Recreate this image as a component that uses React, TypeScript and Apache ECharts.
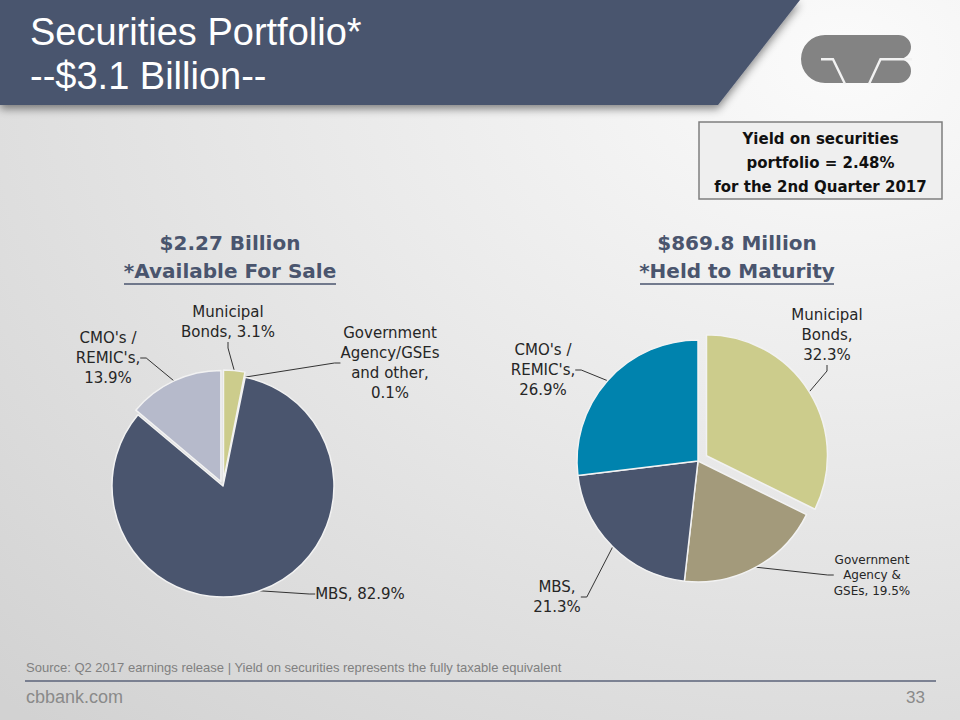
import React, { useEffect, useRef } from 'react';
import * as echarts from 'echarts';

// ---------- Data ----------
const afsNames = ["Municipal\nBonds", "Government\nAgency/GSEs\nand other", "MBS", "CMO's /\nREMIC's"];
const afsValues = [3.1, 0.1, 82.9, 13.9];
const afsSep = [', ', ',\n', ', ', ',\n'];
const afsColors = ['#cccc8c', '#a39a7b', '#4a556e', '#b6bacb'];
const afsExplode = [5, 0, 0, 5];

const htmNames = ["Municipal\nBonds", "Government\nAgency &\nGSEs", "MBS", "CMO's /\nREMIC's"];
const htmValues = [32.3, 19.5, 21.3, 26.9];
const htmSep = [',\n', ', ', ',\n', ',\n'];
const htmColors = ['#cccc8c', '#a39a7b', '#4a556e', '#0083ae'];
const htmExplode = [10, 0, 0, 0];

// label anchor positions (layout only)
const afsLabelPos = [[228, 322], [390, 363], [360, 594], [108, 358]];
const htmLabelPos = [[827, 335], [872, 575], [557, 597], [543, 370]];

const LOGO_D =
  'M825 35 L898 35 A12.5 12 0 0 1 899 59 A12.5 12 0 0 1 898 83 L825 83 A24 24 0 0 1 825 35 Z';
echarts.graphic.registerShape('cvbLogo', echarts.graphic.extendPath(LOGO_D, {}));

const SLATE = '#4a556e';
const HIDDEN = 'rgba(0,0,0,0)';

function buildPieSeries(
  names: string[], values: number[], seps: string[], colors: string[], explode: number[],
  pos: number[][], center: number[], radius: number, smallIdx: number
) {
  const total = values.reduce((a, b) => a + b, 0);
  // groups: -1 = base (non-exploded items), k = exploded item k
  const groups = [-1, ...explode.map((e, i) => (e > 0 ? i : -2)).filter((i) => i >= 0)];
  let cum = 0;
  const mids = values.map((v) => {
    const m = ((cum + v / 2) / total) * 2 * Math.PI;
    cum += v;
    return m; // clockwise from 12 o'clock
  });
  return groups.map((g) => {
    const visible = (i: number) => (g === -1 ? explode[i] === 0 : i === g);
    const off = g === -1 ? 0 : explode[g];
    const c = g === -1 ? center : [center[0] + Math.sin(mids[g]) * off, center[1] - Math.cos(mids[g]) * off];
    return {
      type: 'pie',
      center: c,
      radius,
      startAngle: 90,
      clockwise: true,
      silent: true,
      avoidLabelOverlap: false,
      emphasis: { disabled: true },
      itemStyle: { borderColor: '#f2f2f2', borderWidth: 1.5 },
      label: {
        show: true,
        position: 'outside',
        color: '#262626',
        fontFamily: 'DejaVu Sans',
        fontSize: 15,
        lineHeight: 20,
        align: 'center',
        formatter: (p: any) => `${names[p.dataIndex]}${seps[p.dataIndex]}${values[p.dataIndex].toFixed(1)}%`,
      },
      labelLine: { show: true, length: 8, length2: 6, lineStyle: { color: '#333', width: 1 } },
      labelLayout: (p: any) => ({
        x: pos[p.dataIndex][0],
        y: pos[p.dataIndex][1],
        align: 'center',
        verticalAlign: 'middle',
      }),
      data: names.map((n, i) => {
        const vis = visible(i);
        return {
          name: n.replace(/\n/g, ' '),
          value: values[i],
          itemStyle: vis ? { color: colors[i] } : { color: HIDDEN, borderWidth: 0 },
          label: vis
            ? (i === smallIdx ? { fontSize: 12, lineHeight: 15.5 } : {})
            : { show: false },
          labelLine: vis ? {} : { show: false },
        };
      }),
    };
  });
}

export default function App() {
  const ref = useRef<HTMLDivElement>(null);
  useEffect(() => {
    if (!ref.current) return;
    const chart = echarts.init(ref.current, null, { renderer: 'svg' });
    const option: any = {
      animation: false,
      graphic: [
        {
          type: 'rect', z: -10, silent: true,
          shape: { x: 0, y: 0, width: 960, height: 720 },
          style: {
            fill: {
              type: 'radial', x: 0.88, y: 0.08, r: 1.25,
              colorStops: [
                { offset: 0, color: '#fbfbfb' },
                { offset: 0.45, color: '#e9e9e9' },
                { offset: 1, color: '#d2d2d2' },
              ],
            },
          },
        },
        {
          type: 'polygon', z: 1,
          shape: { points: [[0, 0], [800, 0], [718, 105], [0, 105]] },
          style: { fill: SLATE, shadowBlur: 8, shadowOffsetY: 4, shadowColor: 'rgba(0,0,0,0.45)' },
        },
        {
          type: 'text', z: 2, x: 30, y: 32,
          style: { text: 'Securities Portfolio*', fill: '#ffffff', fontSize: 38, fontFamily: 'Liberation Sans', verticalAlign: 'middle' },
        },
        {
          type: 'text', z: 2, x: 30, y: 76,
          style: { text: '--$3.1 Billion--', fill: '#ffffff', fontSize: 38, fontFamily: 'Liberation Sans', verticalAlign: 'middle' },
        },
        { type: 'cvbLogo', z: 2, x: 0, y: 0, style: { fill: '#838383' } },
        {
          type: 'polyline', z: 3,
          shape: { points: [[821, 59.3], [833, 59.3], [845, 84]] },
          style: { stroke: '#f2f2f2', lineWidth: 2.4, fill: null },
        },
        {
          type: 'polyline', z: 3,
          shape: { points: [[869, 84], [880.5, 59.3], [912, 59.3]] },
          style: { stroke: '#f2f2f2', lineWidth: 2.4, fill: null },
        },
        {
          type: 'rect', z: 2,
          shape: { x: 699, y: 122, width: 243, height: 77 },
          style: { fill: '#efefef', stroke: '#7f7f7f', lineWidth: 1.5 },
        },
        {
          type: 'text', z: 3, x: 820.5, y: 163,
          style: {
            text: 'Yield on securities\nportfolio = 2.48%\nfor the 2nd Quarter 2017',
            fill: '#111111', fontSize: 15, fontWeight: 'bold', fontFamily: 'DejaVu Sans',
            lineHeight: 24, align: 'center', verticalAlign: 'middle',
          },
        },
        {
          type: 'text', z: 3, x: 230, y: 257,
          style: {
            text: '$2.27 Billion\n*Available For Sale', fill: SLATE, fontSize: 20, fontWeight: 'bold',
            fontFamily: 'DejaVu Sans', lineHeight: 28, align: 'center', verticalAlign: 'middle',
          },
        },
        { type: 'line', z: 3, shape: { x1: 124, y1: 284, x2: 336, y2: 284 }, style: { stroke: SLATE, lineWidth: 1.6 } },
        {
          type: 'text', z: 3, x: 737, y: 257,
          style: {
            text: '$869.8 Million\n*Held to Maturity', fill: SLATE, fontSize: 20, fontWeight: 'bold',
            fontFamily: 'DejaVu Sans', lineHeight: 28, align: 'center', verticalAlign: 'middle',
          },
        },
        { type: 'line', z: 3, shape: { x1: 640, y1: 284, x2: 834, y2: 284 }, style: { stroke: SLATE, lineWidth: 1.6 } },
        {
          type: 'text', z: 3, x: 26, y: 667,
          style: {
            text: 'Source: Q2 2017 earnings release | Yield on securities represents the fully taxable equivalent',
            fill: '#808080', fontSize: 13, fontFamily: 'Liberation Sans', verticalAlign: 'middle',
          },
        },
        { type: 'line', z: 3, shape: { x1: 25, y1: 681, x2: 936, y2: 681 }, style: { stroke: '#5b637a', lineWidth: 1.5 } },
        {
          type: 'text', z: 3, x: 26, y: 697,
          style: { text: 'cbbank.com', fill: '#8a8a8a', fontSize: 18, fontFamily: 'Liberation Sans', verticalAlign: 'middle' },
        },
        {
          type: 'text', z: 3, x: 925, y: 697,
          style: { text: '33', fill: '#8a8a8a', fontSize: 17, fontFamily: 'Liberation Sans', align: 'right', verticalAlign: 'middle' },
        },
      ],
      series: [
        ...buildPieSeries(afsNames, afsValues, afsSep, afsColors, afsExplode, afsLabelPos, [223, 486], 111, -1),
        ...buildPieSeries(htmNames, htmValues, htmSep, htmColors, htmExplode, htmLabelPos, [698, 461], 121, 1),
      ],
    };
    chart.setOption(option);
    return () => chart.dispose();
  }, []);
  return <div ref={ref} style={{ position: 'absolute', left: 0, top: 0, width: 960, height: 720 }} />;
}
